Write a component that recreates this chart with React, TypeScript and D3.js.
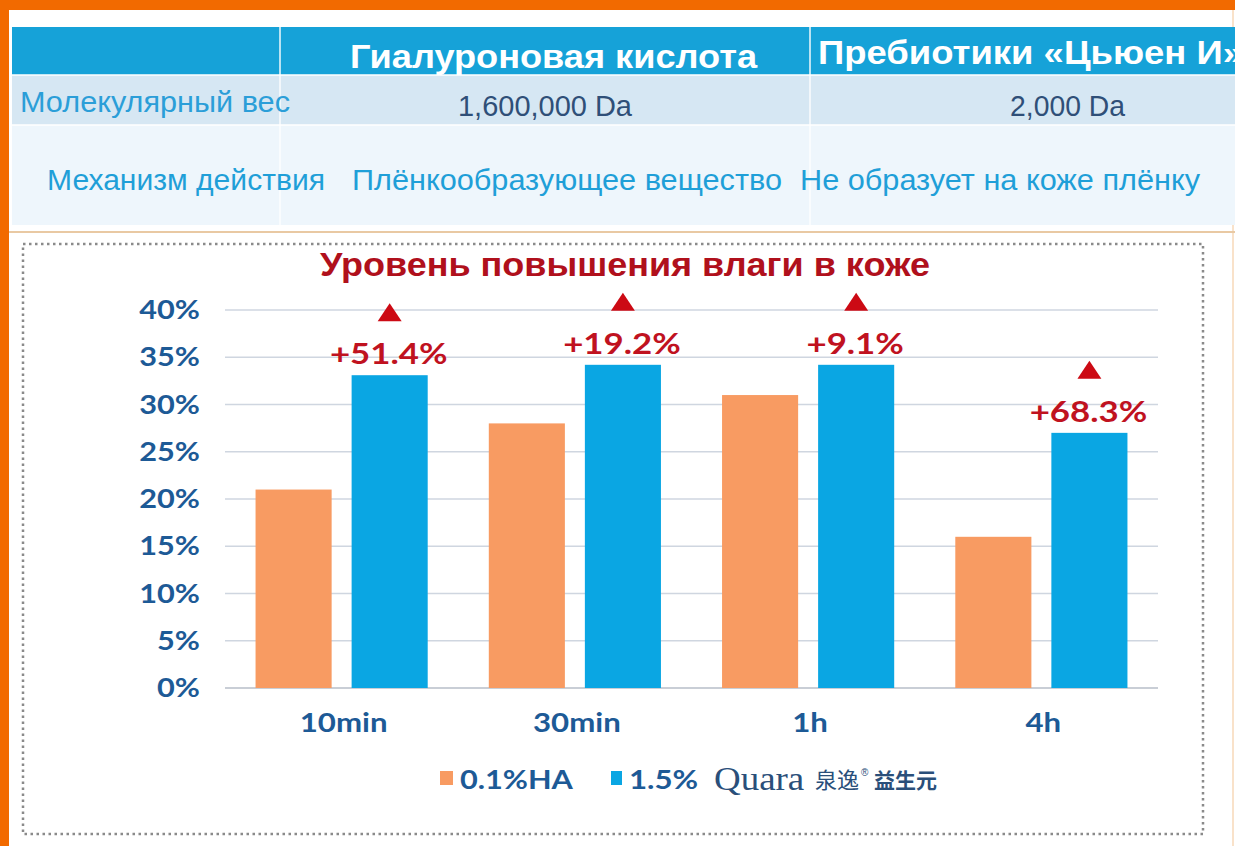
import React from "react";
import * as d3 from "d3";

const categories = ["10min", "30min", "1h", "4h"];
const haValues = [21, 28, 31, 16];
const quaraValues = [33.1, 34.2, 34.2, 27];
const increaseLabels = ["+51.4%", "+19.2%", "+9.1%", "+68.3%"];
const yTicks = [0, 5, 10, 15, 20, 25, 30, 35, 40];
const seriesKeys = ["ha", "quara"];

const tableHeader = ["", "Гиалуроновая кислота", "Пребиотики «Цьюен И»"];
const tableRow1 = ["Молекулярный вес", "1,600,000 Da", "2,000 Da"];
const tableRow2 = ["Механизм действия", "Плёнкообразующее вещество", "Не образует на коже плёнку"];

const W = 1235;
const H = 846;

type STProps = {
  x: number;
  y: number;
  sx: number;
  anchor?: "start" | "middle" | "end";
  children: React.ReactNode;
  [k: string]: any;
};

function StretchText({ x, y, sx, anchor = "start", children, ...rest }: STProps) {
  return (
    <text transform={`translate(${x},${y}) scale(${sx},1)`} textAnchor={anchor} {...rest}>
      {children}
    </text>
  );
}

export default function App() {
  const x0 = d3.scaleBand<string>().domain(categories).range([225, 1158]).padding(0);
  const x1 = d3
    .scaleBand<string>()
    .domain(seriesKeys)
    .range([0, x0.bandwidth()])
    .paddingInner(0.208)
    .paddingOuter(0.318);
  const y = d3.scaleLinear().domain([0, 40]).range([688, 310]);

  const orange = "#f89b62";
  const blue = "#0aa6e3";
  const red = "#c0121f";
  const axisBlue = "#1d5a96";
  const sans = "'Liberation Sans', Arial, sans-serif";
  const lato = "Lato, 'Open Sans', sans-serif";
  const fit = "spacingAndGlyphs";

  return (
    <div style={{ position: "absolute", left: 0, top: 0 }}>
      <svg width={W} height={H} viewBox={`0 0 ${W} ${H}`} style={{ display: "block" }}>
        <rect x={0} y={0} width={W} height={H} fill="#ffffff" />
        {/* orange frame */}
        <rect x={0} y={0} width={W} height={10} fill="#f26a00" />
        <rect x={0} y={0} width={9} height={H} fill="#f26a00" />
        <line x1={1233} y1={10} x2={1233} y2={H} stroke="#f7d9b8" strokeWidth={1.5} />

        {/* table */}
        <rect x={12} y={27} width={W - 12} height={48} fill="#16a2d8" />
        <rect x={12} y={75} width={W - 12} height={50} fill="#d6e7f3" />
        <rect x={12} y={125} width={W - 12} height={100} fill="#eef6fc" />
        <line x1={280} y1={27} x2={280} y2={225} stroke="#ffffff" strokeWidth={2} opacity={0.7} />
        <line x1={810} y1={27} x2={810} y2={225} stroke="#ffffff" strokeWidth={2} opacity={0.7} />
        <line x1={12} y1={75} x2={W} y2={75} stroke="#ffffff" strokeWidth={1.5} />
        <line x1={12} y1={125} x2={W} y2={125} stroke="#ffffff" strokeWidth={1.5} />
        <line x1={9} y1={232} x2={W} y2={232} stroke="#e9c9a3" strokeWidth={2} />

        <text x={350} y={68} textLength={407} lengthAdjust={fit} fill="#ffffff" fontFamily={sans} fontWeight="bold" fontSize={33}>
          {tableHeader[1]}
        </text>
        <text x={818} y={64} textLength={425} lengthAdjust={fit} fill="#ffffff" fontFamily={sans} fontWeight="bold" fontSize={33}>
          {tableHeader[2]}
        </text>
        <text x={20} y={112} textLength={270} lengthAdjust={fit} fill="#2b9ed8" fontFamily={sans} fontSize={29}>
          {tableRow1[0]}
        </text>
        <text x={458} y={116} textLength={174} lengthAdjust={fit} fill="#2f4f78" fontFamily={sans} fontSize={29}>
          {tableRow1[1]}
        </text>
        <text x={1010} y={116} textLength={115} lengthAdjust={fit} fill="#2f4f78" fontFamily={sans} fontSize={29}>
          {tableRow1[2]}
        </text>
        <text x={47} y={190} textLength={278} lengthAdjust={fit} fill="#1f9fd8" fontFamily={sans} fontSize={29}>
          {tableRow2[0]}
        </text>
        <text x={352} y={190} textLength={430} lengthAdjust={fit} fill="#1f9fd8" fontFamily={sans} fontSize={29}>
          {tableRow2[1]}
        </text>
        <text x={800} y={190} textLength={400} lengthAdjust={fit} fill="#1f9fd8" fontFamily={sans} fontSize={29}>
          {tableRow2[2]}
        </text>

        {/* dotted frame */}
        <rect
          x={23}
          y={244}
          width={1180}
          height={590}
          fill="none"
          stroke="#8a8a8a"
          strokeWidth={2.5}
          strokeDasharray="2.5 3.5"
        />

        {/* title */}
        <text x={320} y={276} textLength={610} lengthAdjust={fit} fill="#b0101c" fontFamily={sans} fontWeight="bold" fontSize={33}>
          Уровень повышения влаги в коже
        </text>

        {/* gridlines */}
        {yTicks.map((t) => (
          <g key={t}>
            <line
              x1={225}
              x2={1158}
              y1={y(t)}
              y2={y(t)}
              stroke={t === 0 ? "#c9ced6" : "#cfd6e0"}
              strokeWidth={t === 0 ? 2 : 1.5}
            />
            <StretchText
              x={200}
              y={y(t) + 9}
              sx={1.18}
              anchor="end"
              fill={axisBlue}
              fontFamily={lato}
              fontWeight="bold"
              fontSize={26}
            >
              {t}%
            </StretchText>
          </g>
        ))}

        {/* bars */}
        {categories.map((c, i) => {
          const gx = x0(c) ?? 0;
          const bx = gx + (x1("quara") ?? 0);
          const bw = x1.bandwidth();
          const top = y(quaraValues[i]);
          const cx = bx + bw / 2;
          const triTop = top - 72;
          return (
            <g key={c}>
              <rect x={gx + (x1("ha") ?? 0)} y={y(haValues[i])} width={bw} height={y(0) - y(haValues[i])} fill={orange} />
              <rect x={bx} y={top} width={bw} height={y(0) - top} fill={blue} />
              <path
                d={`M${cx - 12},${triTop + 18} L${cx},${triTop} L${cx + 12},${triTop + 18} Z`}
                fill="#cc0a14"
              />
              <StretchText
                x={cx - 1}
                y={top - 11}
                sx={1.2}
                anchor="middle"
                fill={red}
                fontFamily={lato}
                fontWeight="bold"
                fontSize={29}
              >
                {increaseLabels[i]}
              </StretchText>
              <StretchText
                x={gx + x0.bandwidth() / 2 + 2}
                y={732}
                sx={1.2}
                anchor="middle"
                fill={axisBlue}
                fontFamily={lato}
                fontWeight="bold"
                fontSize={26}
              >
                {c}
              </StretchText>
            </g>
          );
        })}

        {/* legend */}
        <rect x={440} y={771} width={13} height={14} fill={orange} />
        <StretchText x={460} y={789} sx={1.18} fill={axisBlue} fontFamily={lato} fontWeight="bold" fontSize={26}>
          0.1%HA
        </StretchText>
        <rect x={611} y={771} width={11} height={14} fill={blue} />
        <StretchText x={629} y={789} sx={1.2} fill={axisBlue} fontFamily={lato} fontWeight="bold" fontSize={26}>
          1.5%
        </StretchText>
        <StretchText x={714} y={790} sx={1.12} fill="#2a4f7a" fontFamily="'Liberation Serif', 'DejaVu Serif', serif" fontSize={33}>
          Quara
        </StretchText>
        <text x={815} y={788} fill="#2a4f7a" fontFamily="'Noto Sans CJK SC', sans-serif" fontSize={22}>
          泉逸
        </text>
        <text x={861} y={776} fill="#2a4f7a" fontFamily={sans} fontSize={10}>
          ®
        </text>
        <text x={874} y={788} fill="#2a4f7a" fontFamily="'Noto Sans CJK SC', sans-serif" fontWeight="bold" fontSize={21}>
          益生元
        </text>
      </svg>
    </div>
  );
}
